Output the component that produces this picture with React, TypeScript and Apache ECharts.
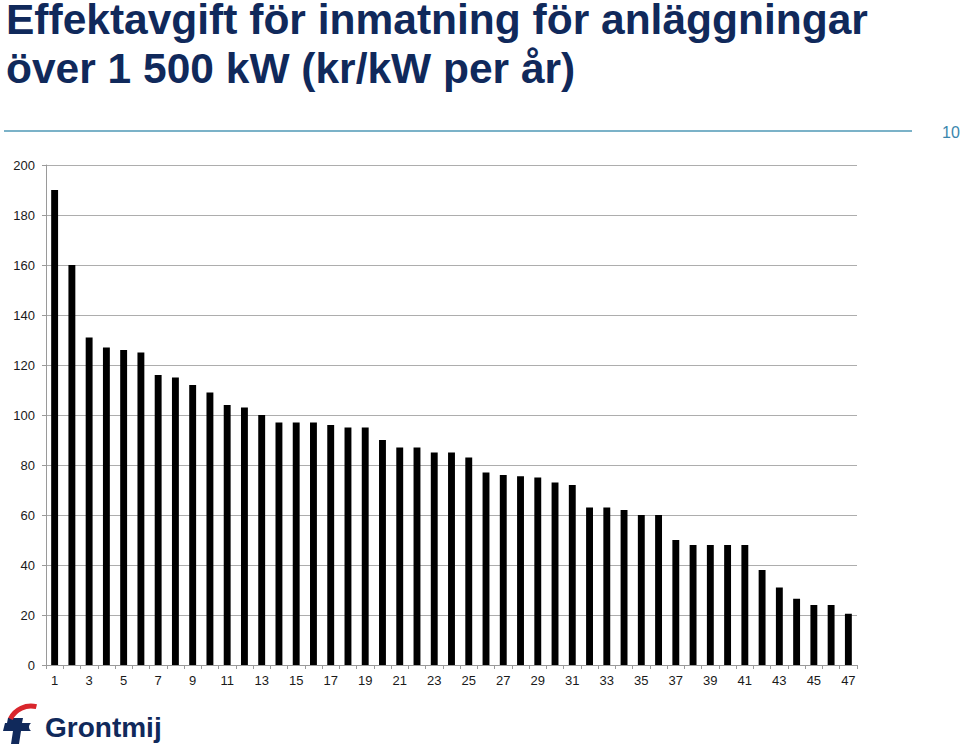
import React, { useEffect, useRef } from "react";
import * as echarts from "echarts";

const titleLines = ["Effektavgift för inmatning för anläggningar", "över 1 500 kW (kr/kW per år)"];
const pageNumber = "10";
const brandName = "Grontmij";

const categories = [
  "1", "2", "3", "4", "5", "6", "7", "8", "9", "10",
  "11", "12", "13", "14", "15", "16", "17", "18", "19", "20",
  "21", "22", "23", "24", "25", "26", "27", "28", "29", "30",
  "31", "32", "33", "34", "35", "36", "37", "38", "39", "40",
  "41", "42", "43", "44", "45", "46", "47",
];

const fees = [
  190, 160, 131, 127, 126, 125, 116, 115, 112, 109,
  104, 103, 100, 97, 97, 97, 96, 95, 95, 90,
  87, 87, 85, 85, 83, 77, 76, 75.5, 75, 73,
  72, 63, 63, 62, 60, 60, 50, 48, 48, 48,
  48, 38, 31, 26.5, 24, 24, 20.5,
];

const yMin = 0;
const yMax = 200;
const yStep = 20;

const NAVY = "#10295b";

export default function App() {
  const ref = useRef<HTMLDivElement>(null);

  useEffect(() => {
    if (!ref.current) return;
    const chart = echarts.init(ref.current, undefined, { renderer: "svg" });
    const font = "Arial, 'Liberation Sans', Helvetica, sans-serif";

    chart.setOption({
      animation: false,
      backgroundColor: "#ffffff",
      textStyle: { fontFamily: font },
      grid: { left: 46, right: 103, top: 165, bottom: 87, containLabel: false },
      xAxis: {
        type: "category",
        data: categories,
        boundaryGap: true,
        axisLine: { show: true, lineStyle: { color: "#9a9a9a", width: 1 } },
        axisTick: { show: true, interval: 0, length: 4, lineStyle: { color: "#9a9a9a" } },
        axisLabel: { interval: 1, margin: 9, fontSize: 13, color: "#1a1a1a", fontFamily: font },
        splitLine: { show: false },
      },
      yAxis: {
        type: "value",
        min: yMin,
        max: yMax,
        interval: yStep,
        axisLine: { show: true, lineStyle: { color: "#9a9a9a", width: 1 } },
        axisTick: { show: true, length: 4, lineStyle: { color: "#9a9a9a" } },
        axisLabel: { margin: 11, fontSize: 13, color: "#1a1a1a", fontFamily: font },
        splitLine: { show: true, lineStyle: { color: "#adadad", width: 1.2 } },
      },
      series: [
        {
          type: "bar",
          data: fees,
          barWidth: "40%",
          itemStyle: { color: "#000000" },
        },
      ],
      graphic: [
        {
          type: "text",
          x: 6,
          y: 19,
          style: {
            text: titleLines[0],
            font: `bold 42.5px ${font}`,
            lineHeight: 36,
            fill: NAVY,
            verticalAlign: "middle",
          },
        },
        {
          type: "text",
          x: 6,
          y: 68,
          style: {
            text: titleLines[1],
            font: `bold 42.5px ${font}`,
            lineHeight: 36,
            fill: NAVY,
            verticalAlign: "middle",
          },
        },
        {
          type: "line",
          shape: { x1: 4, y1: 131, x2: 912, y2: 131 },
          style: { stroke: "#4f98b6", lineWidth: 1.3 },
        },
        {
          type: "text",
          x: 942,
          y: 132,
          style: {
            text: pageNumber,
            font: `16px ${font}`,
            fill: "#3a86ad",
            verticalAlign: "middle",
            align: "left",
          },
        },
        {
          type: "polygon",
          shape: {
            points: [
              [8, 718], [23, 718], [22, 723], [34, 723], [32, 731], [21, 731],
              [19, 744], [11, 744], [13, 731], [3, 731], [5, 723], [7, 723],
            ],
          },
          style: { fill: NAVY },
        },
        {
          type: "circle",
          shape: { cx: 34, cy: 727, r: 5 },
          style: { fill: "#ffffff" },
        },
        {
          type: "arc",
          shape: { cx: 31, cy: 729, r: 23, startAngle: 3.6, endAngle: 4.95 },
          style: { stroke: "#d9262c", lineWidth: 5, fill: "none" },
        },
        {
          type: "text",
          x: 45,
          y: 727,
          style: {
            text: brandName,
            font: `bold 28px ${font}`,
            fill: NAVY,
            verticalAlign: "middle",
          },
        },
      ],
    });

    return () => chart.dispose();
  }, []);

  return (
    <div
      ref={ref}
      style={{ position: "fixed", left: 0, top: 0, width: 960, height: 752, background: "#fff" }}
    />
  );
}
